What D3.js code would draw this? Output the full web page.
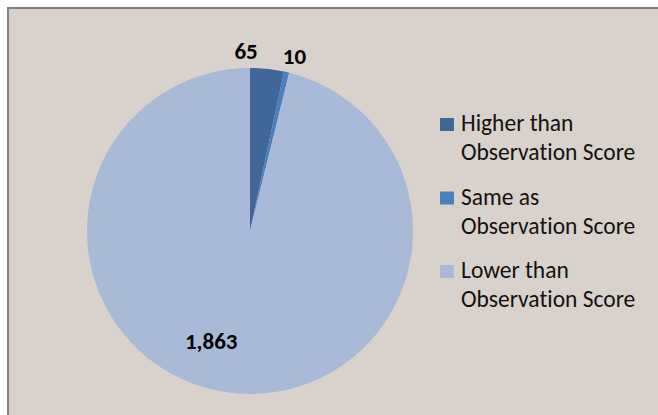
<!DOCTYPE html>
<html>
<head>
<meta charset="utf-8">
<script src="https://cdn.jsdelivr.net/npm/d3@7"></script>
<style>
  html, body { margin: 0; padding: 0; background: #ffffff; }
  svg { display: block; }
  text { font-variant-ligatures: none; font-feature-settings: "liga" 0; }
</style>
</head>
<body>
<svg id="chart" width="658" height="415"></svg>
<script>
// Score comparison categories and counts
const categories = ["Higher than Observation Score", "Same as Observation Score", "Lower than Observation Score"];
const legendLines = [["Higher than", "Observation Score"], ["Same as", "Observation Score"], ["Lower than", "Observation Score"]];
const counts = [65, 10, 1863];
const colors = ["#3F6797", "#4A7EBC", "#A9BAD8"];

const W = 658, H = 415;
const svg = d3.select("#chart");
const font = "Carlito, Lato, Calibri, sans-serif";

// Chart area: beige panel with a grey frame on the top and left edges
svg.append("rect").attr("x", 8).attr("y", 8).attr("width", W - 8).attr("height", H - 8)
  .attr("fill", "#D9D1CB");
svg.append("path").attr("d", `M8,${H} V8 H${W}`)
  .attr("fill", "none").attr("stroke", "#808080").attr("stroke-width", 2);

const cx = 250, cy = 231, R = 163;
const fmt = d3.format(",");

const pie = d3.pie().sort(null).value(d => d)(counts);
const arc = d3.arc().innerRadius(0).outerRadius(R);

const g = svg.append("g").attr("transform", `translate(${cx},${cy})`);
g.selectAll("path.slice").data(pie).join("path")
  .attr("class", "slice")
  .attr("d", arc)
  .attr("fill", (d, i) => colors[i]);

// Data labels: small slices outside the edge, the large slice inside
const labelRadius = [181, 180, 114];
const labelNudge = [[-23, 0], [4, 0], [-25, -3]];
g.selectAll("text.val").data(pie).join("text")
  .attr("class", "val")
  .attr("transform", (d, i) => {
    const c = d3.arc().innerRadius(labelRadius[i]).outerRadius(labelRadius[i]).centroid(d);
    return `translate(${c[0] + labelNudge[i][0]},${c[1] + labelNudge[i][1]})`;
  })
  .attr("text-anchor", "middle")
  .attr("dy", "0.35em")
  .attr("font-family", font)
  .attr("font-weight", "bold")
  .attr("font-size", 23)
  .attr("fill", "#000")
  .text(d => fmt(d.data));

// Legend
const leg = svg.append("g").attr("transform", "translate(440,118)");
const item = leg.selectAll("g").data(categories).join("g")
  .attr("transform", (d, i) => `translate(0,${i * 73.5})`);
item.append("rect").attr("width", 14).attr("height", 13)
  .attr("fill", (d, i) => colors[i]);
item.append("text")
  .attr("font-family", font)
  .attr("font-size", 23.5)
  .attr("fill", "#111")
  .selectAll("tspan").data((d, i) => legendLines[i]).join("tspan")
  .attr("x", 21)
  .attr("y", (d, j) => 13 + j * 29)
  .text(d => d);
</script>
</body>
</html>
